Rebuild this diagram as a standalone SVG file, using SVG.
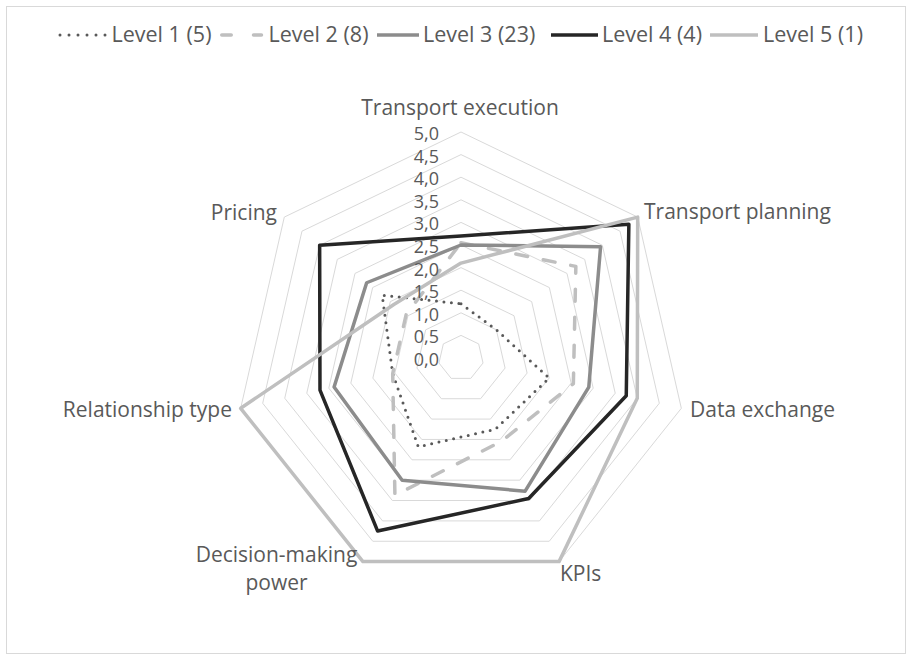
<svg xmlns="http://www.w3.org/2000/svg" width="912" height="660" viewBox="0 0 912 660">
<style>
text{font-family:"Open Sans","Noto Sans","DejaVu Sans",sans-serif;fill:#595959}
.ax{font-size:21px}
.tk{font-size:18px;text-anchor:end}
.lg{font-size:21.5px}
.grid{fill:none;stroke:#d9d9d9;stroke-width:1}
.s{fill:none;stroke-linejoin:round;stroke-width:3.5}
.l1{stroke:#595959;stroke-width:3;stroke-dasharray:0 7.5;stroke-linecap:round}
.l2{stroke:#bfbfbf;stroke-dasharray:12 16;stroke-linecap:round}
.l3{stroke:#8c8c8c}
.l4{stroke:#262626}
.l5{stroke:#bfbfbf}
</style>
<rect width="912" height="660" fill="#fff"/>
<rect x="6.5" y="6.5" width="899" height="647" fill="none" stroke="#d9d9d9"/>
<g id="gridlines">
<polygon class="grid" points="461,335.4 478.67,343.91 483.03,363.03 470.81,378.36 451.19,378.36 438.97,363.03 443.33,343.91"/>
<polygon class="grid" points="461,312.8 496.34,329.82 505.07,368.06 480.61,398.72 441.39,398.72 416.93,368.06 425.66,329.82"/>
<polygon class="grid" points="461,290.2 514.01,315.73 527.1,373.09 490.42,419.09 431.58,419.09 394.9,373.09 407.99,315.73"/>
<polygon class="grid" points="461,267.6 531.68,301.64 549.13,378.12 500.22,439.45 421.78,439.45 372.87,378.12 390.32,301.64"/>
<polygon class="grid" points="461,245 549.35,287.55 571.17,383.15 510.03,459.81 411.97,459.81 350.83,383.15 372.65,287.55"/>
<polygon class="grid" points="461,222.4 567.01,273.45 593.2,388.17 519.84,480.17 402.16,480.17 328.8,388.17 354.99,273.45"/>
<polygon class="grid" points="461,199.8 584.68,259.36 615.23,393.2 529.64,500.53 392.36,500.53 306.77,393.2 337.32,259.36"/>
<polygon class="grid" points="461,177.2 602.35,245.27 637.26,398.23 539.45,520.9 382.55,520.9 284.74,398.23 319.65,245.27"/>
<polygon class="grid" points="461,154.6 620.02,231.18 659.3,403.26 549.25,541.26 372.75,541.26 262.7,403.26 301.98,231.18"/>
<polygon class="grid" points="461,132 637.69,217.09 681.33,408.29 559.06,561.62 362.94,561.62 240.67,408.29 284.31,217.09"/>
</g>
<g id="series">
<polygon id="level1" class="s l1" points="461,303.76 496.34,329.82 549.13,378.12 495.32,429.27 418.25,446.78 392.7,373.59 382.2,295.15"/>
<polygon id="level2" class="s l2" points="461,242.74 575.85,266.41 573.37,383.65 501.2,441.48 394.91,495.24 392.7,373.59 406.23,314.32"/>
<polygon id="level3" class="s l3" points="461,245 600.59,246.68 588.79,387.17 525.13,491.17 402.16,480.17 334.09,386.97 366.65,282.75"/>
<polygon id="level4" class="s l4" points="461,235.96 628.86,224.14 626.25,395.72 528.66,498.5 377.65,531.08 319.99,390.19 319.65,245.27"/>
<polygon id="level5" class="s l5" points="461,263.08 637.69,217.09 637.26,398.23 559.06,561.62 362.94,561.62 240.67,408.29 393.86,304.45"/>
</g>
<g id="tick-labels">
<text class="tk" x="439" y="366">0,0</text>
<text class="tk" x="439" y="343.4">0,5</text>
<text class="tk" x="439" y="320.8">1,0</text>
<text class="tk" x="439" y="298.2">1,5</text>
<text class="tk" x="439" y="275.6">2,0</text>
<text class="tk" x="439" y="253">2,5</text>
<text class="tk" x="439" y="230.4">3,0</text>
<text class="tk" x="439" y="207.8">3,5</text>
<text class="tk" x="439" y="185.2">4,0</text>
<text class="tk" x="439" y="162.6">4,5</text>
<text class="tk" x="439" y="140">5,0</text>
</g>
<g id="axis-labels">
<text id="lbl-te" class="ax" x="460" y="115" text-anchor="middle">Transport execution</text>
<text id="lbl-tp" class="ax" x="644" y="218.5">Transport planning</text>
<text id="lbl-de" class="ax" x="690" y="417">Data exchange</text>
<text id="lbl-kpi" class="ax" x="560" y="581">KPIs</text>
<text id="lbl-dm" class="ax" text-anchor="middle"><tspan x="276.5" y="561.5">Decision-making</tspan><tspan x="276.5" y="589.5">power</tspan></text>
<text id="lbl-rt" class="ax" x="232" y="416.5" text-anchor="end">Relationship type</text>
<text id="lbl-pr" class="ax" x="277" y="220" text-anchor="end">Pricing</text>
</g>
<g id="legend">
<g id="leg1"><path class="s l1" style="stroke-dasharray:0 9" d="M60 35H106"/><text class="lg" x="111.5" y="42">Level 1 (5)</text></g>
<g id="leg2"><path class="s l2" style="stroke-dasharray:none" d="M221.75 35H231.25M253.5 35H261.5"/><text class="lg" x="268.5" y="42">Level 2 (8)</text></g>
<g id="leg3"><path class="s l3" d="M377 35H419"/><text class="lg" x="423" y="42">Level 3 (23)</text></g>
<g id="leg4"><path class="s l4" d="M551 35H598"/><text class="lg" x="602" y="42">Level 4 (4)</text></g>
<g id="leg5"><path class="s l5" d="M710 35H758"/><text class="lg" x="763" y="42">Level 5 (1)</text></g>
</g>
</svg>
